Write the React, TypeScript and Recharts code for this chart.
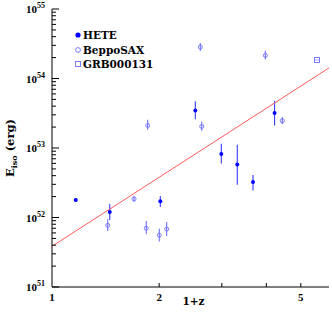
import React from 'react';
import { ComposedChart, Scatter, XAxis, YAxis, ErrorBar } from 'recharts';

// 1+z, E_iso (erg) and the error bar ends
const heteZ1 = [1.166, 1.453, 2.015, 2.527, 2.99, 3.315, 3.67, 4.22];
const heteE = [1.78e52, 1.2e52, 1.72e52, 3.47e53, 8.2e52, 5.8e52, 3.23e52, 3.18e53];
const heteLo = [1.78e52, 9.2e51, 1.42e52, 2.6e53, 6.0e52, 2.95e52, 2.44e52, 2.1e53];
const heteHi = [1.78e52, 1.57e52, 2.04e52, 4.7e53, 1.15e53, 1.11e53, 4.1e52, 4.8e53];

const saxZ1 = [1.434, 1.7, 1.84, 2.002, 2.1, 2.634, 2.61, 1.857, 3.975, 4.436];
const saxE = [7.7e51, 1.85e52, 7.0e51, 5.56e51, 6.8e51, 2.04e53, 2.84e54, 2.11e53, 2.15e54, 2.47e53];
const saxLo = [6.4e51, 1.68e52, 5.75e51, 4.5e51, 5.4e51, 1.77e53, 2.49e54, 1.83e53, 1.87e54, 2.2e53];
const saxHi = [9.4e51, 2.04e52, 8.9e51, 6.9e51, 8.6e51, 2.4e53, 3.24e54, 2.55e53, 2.5e54, 2.8e53];

const grbZ1 = [5.55];
const grbE = [1.85e54];

// fitted power law, end points
const fitZ1 = [1, 6];
const fitE = [3.85e51, 1.42e54];

const xTicks = [1, 2, 3, 4, 5];
const xLabeled = [1, 2, 5];
const yMajor = [1e51, 1e52, 1e53, 1e54, 1e55];

const yTicks: number[] = [];
yMajor.forEach((m, i) => {
    yTicks.push(m);
    if (i < yMajor.length - 1) {
        for (let k = 2; k <= 9; k++) yTicks.push(m * k);
    }
});

const build = (xs: number[], ys: number[], lo?: number[], hi?: number[]) =>
    xs.map((x, i) => ({
        x,
        y: ys[i],
        err: lo && hi ? [ys[i] - lo[i], hi[i] - ys[i]] : [0, 0],
    }));

const heteData = build(heteZ1, heteE, heteLo, heteHi);
const saxData = build(saxZ1, saxE, saxLo, saxHi);
const grbData = build(grbZ1, grbE);
const fitData = build(fitZ1, fitE);

const TICK_FONT = 'Liberation Serif';
const TEXT_FONT = 'DejaVu Serif';
const HETE_BLUE = '#0000ff';
const SAX_BLUE = '#6f6fff';

const isMajor = (v: number) => {
    const e = Math.round(Math.log10(v));
    return Math.abs(v - Math.pow(10, e)) / v < 1e-6;
};

const LeftTick = (props: any) => {
    const { x, y, payload } = props;
    const v = payload.value;
    const major = isMajor(v);
    const exp = Math.round(Math.log10(v));
    return (
        <g>
            <line x1={x} x2={x + (major ? 7 : 4)} y1={y} y2={y} stroke="#000" strokeWidth={1} />
            {major && (
                <text x={x - 7} y={y + 4} textAnchor="end" fontFamily={TICK_FONT} fontWeight="bold" fontSize={11} fill="#000">
                    10<tspan dy={-5} fontSize={8}>{exp}</tspan>
                </text>
            )}
        </g>
    );
};

const RightTick = (props: any) => {
    const { x, y, payload } = props;
    const major = isMajor(payload.value);
    return <line x1={x} x2={x - (major ? 7 : 4)} y1={y} y2={y} stroke="#000" strokeWidth={1} />;
};

const BottomTick = (props: any) => {
    const { x, y, payload } = props;
    const v = payload.value;
    return (
        <g>
            {v !== 1 && <line x1={x} x2={x} y1={y} y2={y - 4} stroke="#000" strokeWidth={1} />}
            {xLabeled.includes(v) && (
                <text x={x} y={y + 14} textAnchor="middle" fontFamily={TICK_FONT} fontWeight="bold" fontSize={11} fill="#000">
                    {v}
                </text>
            )}
        </g>
    );
};

const TopTick = (props: any) => {
    const { x, y } = props;
    return <line x1={x} x2={x} y1={y} y2={y + 4} stroke="#000" strokeWidth={1} />;
};

const YLabel = (props: any) => {
    const vb = props.viewBox || { x: 0, y: 9, width: 52, height: 278 };
    const cx = vb.x + 14;
    const cy = vb.y + vb.height / 2;
    return (
        <text x={cx} y={cy} transform={`rotate(-90 ${cx} ${cy})`} textAnchor="middle" fontFamily={TEXT_FONT} fontWeight="bold" fontSize={11.5} fill="#000">
            E<tspan dy={3} fontSize={8}>iso</tspan>
            <tspan dy={-3}> (erg)</tspan>
        </text>
    );
};

const XLabel = (props: any) => {
    const vb = props.viewBox || { x: 52, y: 287, width: 277, height: 27 };
    return (
        <text x={vb.x + vb.width / 2 + 3} y={vb.y + 18} textAnchor="middle" fontFamily={TEXT_FONT} fontWeight="bold" fontSize={10.5} fill="#000">
            1+z
        </text>
    );
};

const heteDot = (p: any) => <circle cx={p.cx} cy={p.cy} r={2} fill={HETE_BLUE} />;
const saxDot = (p: any) => <circle cx={p.cx} cy={p.cy} r={2} fill="none" stroke={SAX_BLUE} strokeWidth={0.9} />;
const grbDot = (p: any) => (
    <g>
        <rect x={p.cx - 2.5} y={p.cy - 2.5} width={5} height={5} fill="none" stroke={SAX_BLUE} strokeWidth={0.9} />
        <line x1={p.cx - 2.5} x2={p.cx + 2.5} y1={p.cy} y2={p.cy} stroke={SAX_BLUE} strokeWidth={0.6} />
    </g>
);
const noDot = () => <g />;

const legendRow: React.CSSProperties = {
    display: 'flex',
    alignItems: 'center',
    height: 14.5,
    fontFamily: TEXT_FONT,
    fontWeight: 'bold',
    fontSize: 10.5,
    color: '#000',
    whiteSpace: 'nowrap',
};

export default function App() {
    return (
        <div style={{ position: 'absolute', left: 0, top: 0, width: 332, height: 314, background: '#fff' }}>
            <ComposedChart width={332} height={314} margin={{ top: 9, right: 3, left: 0, bottom: 0 }}>
                <XAxis
                    xAxisId="b"
                    dataKey="x"
                    type="number"
                    scale="log"
                    domain={[1, 6]}
                    allowDataOverflow
                    ticks={xTicks}
                    interval={0}
                    height={27}
                    tickSize={0}
                    tickMargin={0}
                    tickLine={false}
                    tick={BottomTick}
                    axisLine={{ stroke: '#000', strokeWidth: 1 }}
                    label={<XLabel />}
                />
                <XAxis
                    xAxisId="t"
                    orientation="top"
                    dataKey="x"
                    type="number"
                    scale="log"
                    domain={[1, 6]}
                    allowDataOverflow
                    ticks={[2, 3, 4, 5]}
                    interval={0}
                    height={0}
                    tickSize={0}
                    tickMargin={0}
                    tickLine={false}
                    tick={TopTick}
                    axisLine={{ stroke: '#000', strokeWidth: 1 }}
                />
                <YAxis
                    yAxisId="l"
                    dataKey="y"
                    type="number"
                    scale="log"
                    domain={[1e51, 1e55]}
                    allowDataOverflow
                    ticks={yTicks}
                    interval={0}
                    width={52}
                    tickSize={0}
                    tickMargin={0}
                    tickLine={false}
                    tick={LeftTick}
                    axisLine={{ stroke: '#000', strokeWidth: 1 }}
                    label={<YLabel />}
                />
                <YAxis
                    yAxisId="r"
                    orientation="right"
                    dataKey="y"
                    type="number"
                    scale="log"
                    domain={[1e51, 1e55]}
                    allowDataOverflow
                    ticks={yTicks}
                    interval={0}
                    width={0}
                    tickSize={0}
                    tickMargin={0}
                    tickLine={false}
                    tick={RightTick}
                    axisLine={{ stroke: '#000', strokeWidth: 1 }}
                />

                <Scatter xAxisId="t" yAxisId="r" data={fitData} shape={noDot} isAnimationActive={false} />

                <Scatter
                    xAxisId="b"
                    yAxisId="l"
                    data={fitData}
                    shape={noDot}
                    line={{ stroke: '#ff5a5a', strokeWidth: 1 }}
                    isAnimationActive={false}
                />

                <Scatter xAxisId="b" yAxisId="l" data={saxData} shape={saxDot} isAnimationActive={false}>
                    <ErrorBar dataKey="err" direction="y" width={0} stroke={SAX_BLUE} strokeWidth={1.1} isAnimationActive={false} />
                </Scatter>

                <Scatter xAxisId="b" yAxisId="l" data={grbData} shape={grbDot} isAnimationActive={false} />

                <Scatter xAxisId="b" yAxisId="l" data={heteData} shape={heteDot} isAnimationActive={false}>
                    <ErrorBar dataKey="err" direction="y" width={0} stroke="#3a3aff" strokeWidth={1.1} isAnimationActive={false} />
                </Scatter>
            </ComposedChart>

            <div style={{ position: 'absolute', left: 74, top: 28 }}>
                <div style={legendRow}>
                    <svg width={8} height={8} style={{ marginRight: 1 }}>
                        <circle cx={4} cy={4} r={2.6} fill={HETE_BLUE} />
                    </svg>
                    HETE
                </div>
                <div style={legendRow}>
                    <svg width={8} height={8} style={{ marginRight: 1 }}>
                        <circle cx={4} cy={4} r={2.4} fill="none" stroke={SAX_BLUE} strokeWidth={0.9} />
                    </svg>
                    BeppoSAX
                </div>
                <div style={legendRow}>
                    <svg width={8} height={8} style={{ marginRight: 1 }}>
                        <rect x={1.5} y={1.5} width={5} height={5} fill="none" stroke={SAX_BLUE} strokeWidth={0.9} />
                    </svg>
                    GRB000131
                </div>
            </div>
        </div>
    );
}
